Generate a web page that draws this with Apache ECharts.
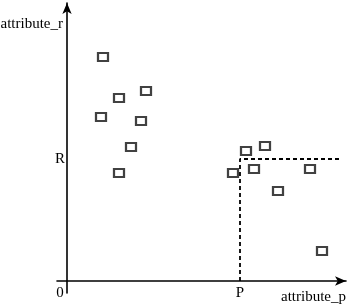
<!DOCTYPE html>
<html>
<head>
<meta charset="utf-8">
<script src="https://cdn.jsdelivr.net/npm/echarts@6/dist/echarts.min.js"></script>
<style>
  html, body { margin: 0; padding: 0; background: #fff; }
  #chart { width: 353px; height: 306px; }
</style>
</head>
<body>
<div id="chart"></div>
<script>
// 点的数据 (attribute_p, attribute_r)
const points = [
  [36, 224], [52, 183], [79, 190], [34, 164], [74, 160], [64, 134], [52, 108],
  [166, 108], [179, 130], [198, 135], [187, 112], [211, 90], [243, 112], [255, 30]
]
// 阈值 P / R
const P = 173
const R = 122
const dashEnd = 272
const xLabels = { 0: '0', [P]: 'P' }
const yLabels = { [R]: 'R' }

const chart = echarts.init(document.getElementById('chart'))

const font = 'Liberation Serif'

const option = {
  animation: false,
  grid: { left: 57, right: 7, top: 3, bottom: 13, outerBoundsMode: 'none' },
  xAxis: {
    type: 'value',
    min: -10,
    max: 279,
    name: 'attribute_p',
    nameLocation: 'end',
    nameGap: 0,
    nameTextStyle: {
      fontFamily: font, fontSize: 15, color: '#000',
      align: 'right', verticalAlign: 'top', padding: [9, 0, 0, 0]
    },
    axisLine: {
      onZero: true,
      symbol: ['none', 'arrow'],
      symbolSize: [7, 11],
      lineStyle: { color: '#000', width: 1.6 }
    },
    axisTick: { show: false },
    splitLine: { show: false },
    axisLabel: {
      customValues: [0, P],
      margin: -7,
      fontFamily: font, fontSize: 15, color: '#000',
      formatter: v => (v === 0 ? '{z|0}' : xLabels[v]),
      rich: { z: { fontFamily: font, fontSize: 15, color: '#000', padding: [0, 14, 0, 0] } }
    }
  },
  yAxis: {
    type: 'value',
    min: -12,
    max: 278,
    name: 'attribute_r',
    nameLocation: 'end',
    nameGap: -29,
    nameTextStyle: {
      fontFamily: font, fontSize: 15, color: '#000',
      align: 'right', padding: [0, 4, 0, 0]
    },
    axisLine: {
      onZero: true,
      symbol: ['none', 'arrow'],
      symbolSize: [7, 11],
      lineStyle: { color: '#000', width: 1.6 }
    },
    axisTick: { show: false },
    splitLine: { show: false },
    axisLabel: {
      customValues: [R],
      margin: -8,
      fontFamily: font, fontSize: 15, color: '#000',
      formatter: v => yLabels[v] || ''
    }
  },
  series: [
    {
      // 虚线边界
      type: 'line',
      data: [[P, 0], [P, R], [dashEnd, R]],
      symbol: 'none',
      silent: true,
      lineStyle: { color: '#000', width: 1.8, type: [4, 3] }
    },
    {
      type: 'scatter',
      data: points,
      symbol: 'rect',
      symbolSize: [10, 8],
      itemStyle: { color: '#fff', borderColor: '#111', borderWidth: 2 }
    }
  ]
}

chart.setOption(option)
</script>
</body>
</html>
